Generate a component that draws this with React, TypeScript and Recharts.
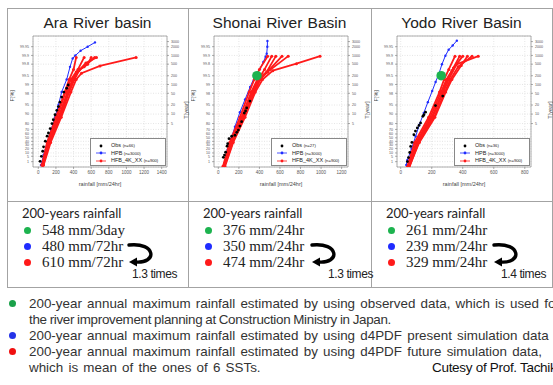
import React from 'react';
import {
  ScatterChart,
  Scatter,
  XAxis,
  YAxis,
  CartesianGrid,
  ReferenceArea,
} from 'recharts';

// y axis is the Gumbel reduced variate, labelled by non-exceedance probability [%]
const probTicks = [99.95, 99.9, 99.8, 99.5, 99, 98, 95, 90, 80, 70, 60, 50, 40, 30, 20, 10, 5, 1];
const returnPeriodTicks = [3000, 2000, 1000, 500, 200, 100, 50, 20, 10, 5];
const yRange = [-1.95, 8.45];

const basinTitles = ['Ara River basin', 'Shonai River Basin', 'Yodo River Basin'];
const obsCounts = [66, 27, 36];

// [rainfall mm, reduced variate]
const araObs = [[20, -1.5], [35, -1.1], [50, -0.7], [60, -0.35], [80, 0.1], [100, 0.5], [115, 0.75], [135, 1.1], [155, 1.5], [170, 1.8], [190, 2.2], [210, 2.55], [228, 2.85], [245, 3.2], [265, 3.6], [290, 4.0], [322, 4.3], [340, 4.56]];
const araHpb = [[30, -1.8], [60, -1.0], [100, 0], [145, 1.0], [190, 2.0], [230, 3.0], [265, 4.0], [322, 5.0], [360, 6.0], [390, 6.67], [420, 6.9], [480, 7.28], [560, 7.6], [643, 7.94]];
const araHfb = [
  [[40, -1.8], [100, 0], [200, 2], [300, 4], [350, 5], [400, 5.8], [430, 6.75]],
  [[50, -1.8], [120, 0], [230, 2], [330, 4], [390, 5], [450, 5.8], [520, 6.75]],
  [[55, -1.8], [130, 0], [250, 2], [350, 4], [410, 5], [470, 5.8], [560, 6.2], [600, 6.75]],
  [[45, -1.8], [110, 0], [215, 2], [310, 4], [370, 5], [430, 5.6], [520, 6.0], [640, 6.75]],
  [[60, -1.8], [140, 0], [260, 2], [370, 4], [430, 5], [490, 5.5], [700, 6.07], [1110, 6.75]],
  [[50, -1.8], [115, 0], [240, 2], [340, 4], [400, 5], [460, 5.7], [540, 6.3], [660, 6.75]],
];

const shonaiObs = [[49, -1.18], [60, -1.0], [71, -0.78], [85, -0.3], [91, -0.1], [104, 0.3], [130, 0.49], [162, 0.57], [180, 0.8], [195, 0.98], [210, 1.3], [227, 1.65], [253, 2.33], [265, 2.5], [276, 2.74], [308, 3.28]];
const shonaiHpb = [[55, -1.9], [90, -0.6], [125, 0.3], [162, 1.25], [210, 2.4], [260, 3.41], [310, 4.4], [357, 5.3], [406, 5.84], [438, 6.38], [460, 6.8], [471, 7.05], [477, 7.6], [478, 8.06]];
const shonaiHfb = [
  [[45, -1.9], [110, 0], [210, 2], [300, 4], [350, 5], [400, 5.8], [480, 6.85]],
  [[55, -1.9], [130, 0], [240, 2], [330, 4], [390, 5], [450, 5.8], [520, 6.85]],
  [[50, -1.9], [120, 0], [225, 2], [320, 4], [380, 5], [470, 5.6], [560, 6.85]],
  [[60, -1.9], [140, 0], [250, 2], [350, 4], [410, 5], [500, 5.8], [620, 6.85]],
  [[50, -1.9], [125, 0], [235, 2], [340, 4], [400, 5], [480, 5.6], [680, 6.85]],
  [[65, -1.9], [145, 0], [260, 2], [360, 4], [430, 5], [530, 5.7], [760, 6.25], [990, 6.85]],
];

const yodoObs = [[43, -1.52], [50, -1.2], [58, -0.8], [64, -0.32], [72, 0], [85, 0.61], [95, 0.9], [107, 1.15], [118, 1.35], [128, 1.55], [143, 2.08], [150, 2.2], [160, 2.4], [224, 2.93], [271, 3.68]];
const yodoHpb = [[36, -1.79], [43, -1.39], [70, -0.5], [96, 0.48], [120, 1.4], [149, 2.35], [175, 3.2], [203, 4.08], [225, 4.8], [245, 5.41], [266, 6.21], [288, 6.88], [309, 7.36], [335, 7.7], [362, 8.08]];
const yodoHfb = [
  [[40, -2], [90, 0], [180, 2], [250, 4], [280, 5], [310, 5.8], [350, 6.85]],
  [[50, -2], [105, 0], [200, 2], [270, 4], [300, 5], [340, 5.9], [400, 6.85]],
  [[45, -2], [100, 0], [190, 2], [260, 4], [295, 5], [330, 5.7], [380, 6.85]],
  [[55, -2], [115, 0], [215, 2], [285, 4], [320, 5], [370, 6.0], [460, 6.85]],
  [[48, -2], [110, 0], [205, 2], [275, 4], [310, 5], [360, 6.2], [500, 6.85]],
  [[52, -2], [120, 0], [220, 2], [290, 4], [330, 5], [390, 6.1], [430, 6.85]],
];

// observed-data 200-year estimate (green dot), rainfall mm
const green200 = [null, 376, 261];

const xTicksAra = [0, 200, 400, 600, 800, 1000, 1200, 1400];
const xTicksShonai = [0, 200, 400, 600, 800, 1000, 1200];
const xTicksYodo = [0, 200, 400, 600, 800];

// 200-years rainfall table: observed, present (HPB), future (HFB), ratio
const obsRain = ['548 mm/3day', '376 mm/24hr', '261 mm/24hr'];
const presentRain = ['480 mm/72hr', '350 mm/24hr', '239 mm/24hr'];
const futureRain = ['610 mm/72hr', '474 mm/24hr', '329 mm/24hr'];
const ratios = ['1.3 times', '1.3 times', '1.4 times'];

const notes = [
  { color: '#1aa14a', lines: ['200-year annual maximum rainfall estimated by using observed data, which is used for', 'the river improvement  planning at Construction Ministry in Japan.'] },
  { color: '#2433e8', lines: ['200-year annual maximum rainfall estimated by using d4PDF present simulation data'] },
  { color: '#f01010', lines: ['200-year annual maximum rainfall estimated by using d4PDF future simulation data,', 'which is mean of the ones of 6 SSTs.'] },
];

const gOfP = (p: number) => -Math.log(-Math.log(p / 100));
const gOfT = (t: number) => -Math.log(-Math.log(1 - 1 / t));
const toPts = (arr: number[][]) => arr.map(([x, y]) => ({ x, y }));

const leftTicks = probTicks.map(gOfP);
const rightTicks = returnPeriodTicks.map(gOfT);
const fmtLeft = (v: number) => {
  const p = probTicks.find((q) => Math.abs(gOfP(q) - v) < 1e-6);
  return p === undefined ? '' : String(p);
};
const fmtRight = (v: number) => {
  const t = returnPeriodTicks.find((q) => Math.abs(gOfT(q) - v) < 1e-6);
  return t === undefined ? '' : String(t);
};

const dot = (r: number, fill: string) => (props: any) =>
  <circle cx={props.cx} cy={props.cy} r={r} fill={fill} />;

const RED = '#ff1a1a';
const BLUE = '#1f2cff';
const GREEN = '#1db34f';
const GRID = '#999';

function BasinChart({ idx, left, xDomain, xTicks, obs, hpb, hfb }: any) {
  const g = green200[idx];
  return (
    <div style={{ position: 'absolute', left, top: 30, width: 180, height: 165 }}>
      <ScatterChart width={180} height={165} margin={{ top: 6, right: 0, bottom: 0, left: 0 }}>
        <CartesianGrid stroke="#d4d4d4" strokeDasharray="1 1.5" strokeWidth={0.6} />
        <XAxis
          type="number"
          dataKey="x"
          domain={xDomain}
          ticks={xTicks}
          allowDataOverflow
          interval={0}
          height={28}
          axisLine={false}
          tickSize={2}
          tickLine={{ stroke: '#777', strokeWidth: 0.6 }}
          tick={{ fontSize: 4.5, fill: '#555' }}
          label={{ value: 'rainfall [mm/24hr]', position: 'insideBottom', offset: 9, fontSize: 5.5, fill: '#444' }}
        />
        <YAxis
          type="number"
          dataKey="y"
          domain={yRange}
          ticks={leftTicks}
          tickFormatter={fmtLeft}
          allowDataOverflow
          interval={0}
          width={23}
          axisLine={false}
          tickSize={2}
          tickLine={{ stroke: '#777', strokeWidth: 0.6 }}
          tick={{ fontSize: 3.6, fill: '#555' }}
          label={{ value: 'F[%]', angle: -90, position: 'insideLeft', offset: 2, fontSize: 5.5, fill: '#444' }}
        />
        <YAxis
          yAxisId="r"
          orientation="right"
          type="number"
          domain={yRange}
          ticks={rightTicks}
          tickFormatter={fmtRight}
          allowDataOverflow
          interval={0}
          width={23}
          axisLine={false}
          tickSize={2}
          tickLine={{ stroke: '#777', strokeWidth: 0.6 }}
          tick={{ fontSize: 3.6, fill: '#555' }}
          label={{ value: 'T[year]', angle: -90, position: 'insideRight', offset: 4, fontSize: 5.5, fill: '#444' }}
        />
        <ReferenceArea
          x1={xDomain[0]}
          x2={xDomain[1]}
          y1={yRange[0]}
          y2={yRange[1]}
          fill="none"
          stroke={GRID}
          strokeWidth={0.8}
          ifOverflow="visible"
        />
        <Scatter
          data={toPts(hpb)}
          fill={BLUE}
          line={{ stroke: BLUE, strokeWidth: 1 }}
          shape={dot(1.2, BLUE)}
          isAnimationActive={false}
        />
        {hfb.map((s: number[][], i: number) => (
          <Scatter
            key={i}
            data={toPts(s)}
            fill={RED}
            line={{ stroke: RED, strokeWidth: 1.8 }}
            shape={dot(1.5, RED)}
            isAnimationActive={false}
          />
        ))}
        <Scatter data={toPts(obs)} fill="#000" shape={dot(1.4, '#000')} isAnimationActive={false} />
        {g !== null && (
          <Scatter data={[{ x: g, y: gOfT(200) }]} fill={GREEN} shape={dot(4.8, GREEN)} isAnimationActive={false} />
        )}
      </ScatterChart>
      <div
        style={{
          position: 'absolute',
          left: 80,
          top: 108,
          width: 76,
          height: 28,
          border: '0.8px solid #888',
          background: '#fff',
          fontFamily: 'Liberation Sans, Arial, sans-serif',
          fontSize: 5.5,
          color: '#222',
          boxSizing: 'border-box',
          padding: '3px 0 0 4px',
          lineHeight: '7.6px',
        }}
      >
        {[
          { c: '#000', name: 'Obs', n: `(n=${obsCounts[idx]})`, line: false },
          { c: BLUE, name: 'HPB', n: '(n=3000)', line: true },
          { c: RED, name: 'HFB_4K_XX', n: '(n=900)', line: true },
        ].map((it) => (
          <div key={it.name} style={{ display: 'flex', alignItems: 'center', whiteSpace: 'nowrap' }}>
            <svg width={12} height={6} style={{ marginRight: 4 }}>
              {it.line && <line x1={1} y1={3} x2={11} y2={3} stroke={it.c} strokeWidth={0.8} />}
              <circle cx={6} cy={3} r={1.4} fill={it.c} />
            </svg>
            <span>{it.name}&nbsp;</span>
            <span style={{ fontSize: 4.2 }}>{it.n}</span>
          </div>
        ))}
      </div>
    </div>
  );
}

const colLefts = [7, 188, 371];
const colRight = 552;
const arrowX = [129, 312, 494];
const ratioX = [132, 328, 501];

function CurvedArrow({ x }: { x: number }) {
  return (
    <svg style={{ position: 'absolute', left: x, top: 240, overflow: 'visible' }} width={30} height={28}>
      <path d="M 0 5 C 27 2, 29 24, 6 22" fill="none" stroke="#000" strokeWidth={3.4} strokeLinecap="round" />
      <polygon points="0,22 8,17.5 8,26.5" fill="#000" />
    </svg>
  );
}

export default function App() {
  const lineStyle = { position: 'absolute' as const, background: '#a3a3a3' };
  return (
    <div
      style={{
        position: 'absolute',
        left: 0,
        top: 0,
        width: 553,
        height: 385,
        overflow: 'hidden',
        background: '#fff',
        fontFamily: 'Liberation Sans, Arial, sans-serif',
      }}
    >
      {/* table borders */}
      <div style={{ ...lineStyle, left: 7, top: 8, width: colRight - 7, height: 1 }} />
      <div style={{ ...lineStyle, left: 7, top: 201, width: colRight - 7, height: 1 }} />
      <div style={{ ...lineStyle, left: 7, top: 287, width: colRight - 7, height: 1 }} />
      {[...colLefts, colRight].map((x) => (
        <div key={x} style={{ ...lineStyle, left: x, top: 8, width: 1, height: 280 }} />
      ))}

      {basinTitles.map((t, i) => {
        const l = colLefts[i];
        const r = i < 2 ? colLefts[i + 1] : colRight;
        return (
          <div
            key={t}
            style={{
              position: 'absolute',
              left: l,
              width: r - l,
              top: 13,
              textAlign: 'center',
              fontSize: 15.5,
              lineHeight: '20px',
              color: '#222',
              wordSpacing: 1,
            }}
          >
            {t}
          </div>
        );
      })}

      <BasinChart idx={0} left={10} xDomain={[-60, 1460]} xTicks={xTicksAra} obs={araObs} hpb={araHpb} hfb={araHfb} />
      <BasinChart idx={1} left={191} xDomain={[-42, 1262]} xTicks={xTicksShonai} obs={shonaiObs} hpb={shonaiHpb} hfb={shonaiHfb} />
      <BasinChart idx={2} left={374} xDomain={[-24, 840]} xTicks={xTicksYodo} obs={yodoObs} hpb={yodoHpb} hfb={yodoHfb} />

      {colLefts.map((l, i) => (
        <React.Fragment key={l}>
          <div style={{ position: 'absolute', left: l + 15, top: 205, fontFamily: 'Lato, sans-serif', fontSize: 13, lineHeight: '16px', color: '#222' }}>
            200-years rainfall
          </div>
          {[
            { c: GREEN, t: obsRain[i] },
            { c: BLUE, t: presentRain[i] },
            { c: RED, t: futureRain[i] },
          ].map((row, j) => (
            <div key={j} style={{ position: 'absolute', left: l + 17, top: 221 + j * 16, height: 18, display: 'flex', alignItems: 'center', whiteSpace: 'nowrap' }}>
              <span style={{ display: 'inline-block', width: 7, height: 7, borderRadius: 4, background: row.c, marginRight: 11 }} />
              <span style={{ fontFamily: 'Liberation Serif, serif', fontSize: 15, color: '#222' }}>{row.t}</span>
            </div>
          ))}
          <CurvedArrow x={arrowX[i]} />
          <div style={{ position: 'absolute', left: ratioX[i], top: 267, fontSize: 12, lineHeight: '14px', color: '#222', whiteSpace: 'nowrap', letterSpacing: -0.4 }}>
            {ratios[i]}
          </div>
        </React.Fragment>
      ))}

      {(() => {
        let row = 0;
        return notes.map((n) =>
          n.lines.map((ln, k) => {
            const top = 295 + row * 16;
            const tight = row === 1;
            row += 1;
            return (
              <div key={ln} style={{ position: 'absolute', left: 9, top, height: 16, display: 'flex', alignItems: 'center', whiteSpace: 'nowrap' }}>
                <span style={{ display: 'inline-block', width: 7, height: 7, borderRadius: 4, background: k === 0 ? n.color : 'transparent', marginRight: 13 }} />
                <span style={{ fontSize: 13.4, color: '#333', wordSpacing: tight ? -0.5 : 1.5, letterSpacing: tight ? -0.3 : 0 }}>{ln}</span>
              </div>
            );
          })
        );
      })()}
      <div style={{ position: 'absolute', left: 432, top: 359, fontSize: 13.5, lineHeight: '18px', color: '#111', whiteSpace: 'nowrap', letterSpacing: -0.3 }}>
        Cutesy of Prof. Tachikawa
      </div>
    </div>
  );
}
